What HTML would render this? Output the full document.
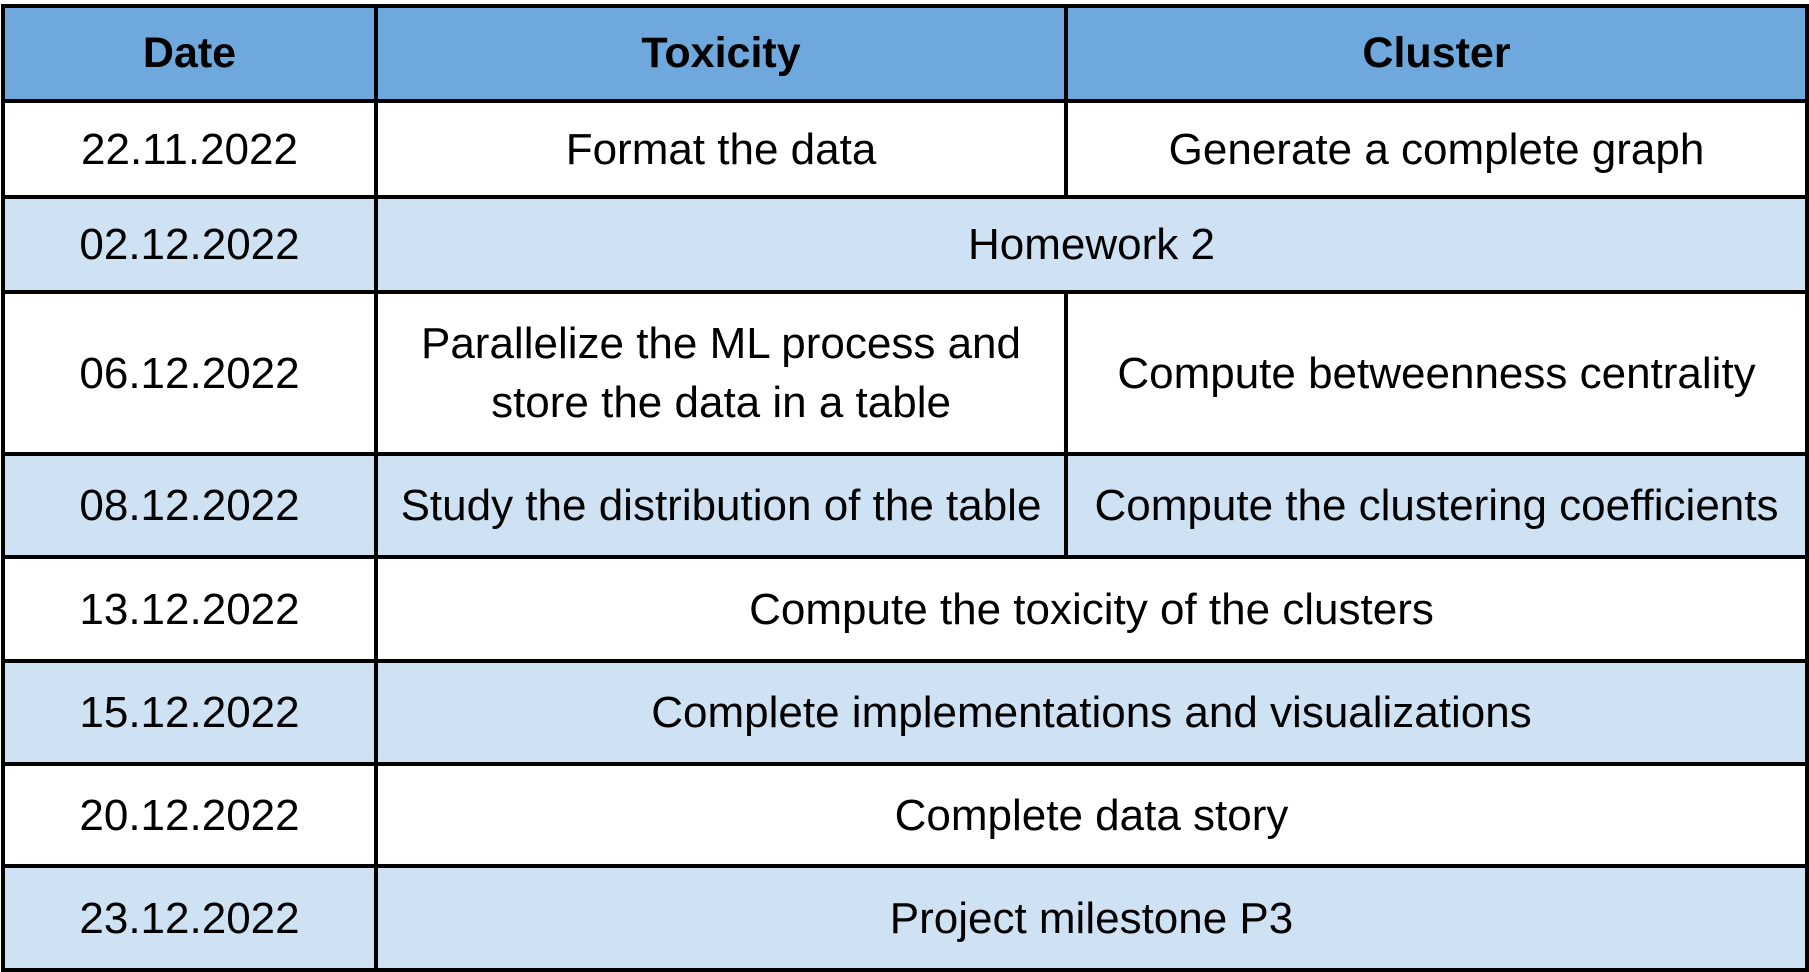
<!DOCTYPE html>
<html><head><meta charset="utf-8"><style>
html,body{margin:0;padding:0;background:#fff;width:1809px;height:972px;overflow:hidden}
table{position:absolute;left:1px;top:4px;border-collapse:collapse;font-family:"Liberation Sans",Arial,sans-serif;font-size:44px;color:#000;table-layout:fixed}
td,th{border:4px solid #000;text-align:center;vertical-align:middle;padding:0;line-height:59px;white-space:nowrap}
th{background:#6fa8dc;font-weight:bold;font-size:43px}
tr.l td{background:#cfe2f3}
tr.w td{background:#fff}
</style></head><body>
<table>
<colgroup><col style="width:373px"><col style="width:690px"><col style="width:741px"></colgroup>
<tr style="height:95px"><th>Date</th><th>Toxicity</th><th>Cluster</th></tr>
<tr class="w" style="height:96px"><td>22.11.2022</td><td>Format the data</td><td>Generate a complete graph</td></tr>
<tr class="l" style="height:95px"><td>02.12.2022</td><td colspan="2">Homework 2</td></tr>
<tr class="w" style="height:162px"><td>06.12.2022</td><td>Parallelize the ML process and<br>store the data in a table</td><td>Compute betweenness centrality</td></tr>
<tr class="l" style="height:103px"><td>08.12.2022</td><td>Study the distribution of the table</td><td>Compute the clustering coefficients</td></tr>
<tr class="w" style="height:104px"><td>13.12.2022</td><td colspan="2">Compute the toxicity of the clusters</td></tr>
<tr class="l" style="height:103px"><td>15.12.2022</td><td colspan="2">Complete implementations and visualizations</td></tr>
<tr class="w" style="height:102px"><td>20.12.2022</td><td colspan="2">Complete data story</td></tr>
<tr class="l" style="height:104px"><td>23.12.2022</td><td colspan="2">Project milestone P3</td></tr>
</table>
</body></html>
